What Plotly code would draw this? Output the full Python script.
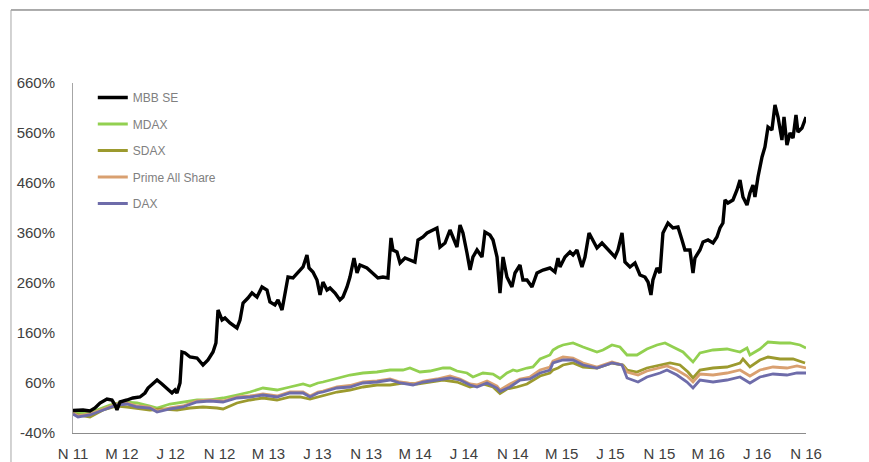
import plotly.graph_objects as go

# x = months since November 2011
tick_months = [0, 4, 8, 12, 16, 20, 24, 28, 32, 36, 40, 44, 48, 52, 56, 60]
tick_labels = ["N 11", "M 12", "J 12", "N 12", "M 13", "J 13", "N 13", "M 14",
               "J 14", "N 14", "M 15", "J 15", "N 15", "M 16", "J 16", "N 16"]
y_tick_vals = [-40, 60, 160, 260, 360, 460, 560, 660]
y_tick_labels = ["-40%", "60%", "160%", "260%", "360%", "460%", "560%", "660%"]

mbb_m = [0, 0.82, 1.39, 1.80, 2.21, 2.78, 3.19, 3.44, 3.60, 3.85, 4.42, 4.91, 5.48, 5.89, 6.14, 6.55,
         6.88, 7.28, 7.69, 8.10, 8.35, 8.51, 8.76, 8.92, 9.17, 9.58, 10.15, 10.64, 11.05, 11.46, 11.70,
         11.87, 12.20, 12.44, 12.85, 13.42, 13.67, 13.92, 14.32, 14.65, 15.06, 15.47, 15.88, 16.12,
         16.53, 16.78, 17.11, 17.35, 17.60, 18.01, 18.42, 18.83, 19.15, 19.32, 19.64, 19.97, 20.22,
         20.46, 20.79, 21.04, 21.45, 21.85, 22.10, 22.43, 22.67, 23.00, 23.25, 23.49, 24.06, 24.56,
         24.96, 25.37, 25.78, 26.03, 26.19, 26.52, 26.77, 27.18, 27.58, 27.99, 28.24, 28.65, 28.98,
         29.39, 29.79, 30.04, 30.45, 30.86, 31.10, 31.43, 31.68, 31.92, 32.25, 32.50, 32.74, 33.07,
         33.48, 33.72, 34.13, 34.38, 34.71, 34.95, 35.20, 35.52, 35.93, 36.18, 36.59, 36.83, 37.16,
         37.57, 37.98, 38.47, 39.04, 39.45, 39.70, 39.86, 40.27, 40.68, 40.93, 41.25, 41.66, 41.91,
         42.24, 42.56, 42.89, 43.30, 43.71, 44.12, 44.36, 44.61, 44.94, 45.18, 45.59, 46.00, 46.41,
         46.82, 47.07, 47.31, 47.47, 47.80, 48.05, 48.29, 48.70, 49.11, 49.52, 49.85, 50.09, 50.50,
         50.75, 50.91, 51.32, 51.57, 51.98, 52.39, 52.71, 52.96, 53.20, 53.37, 53.61, 54.02, 54.35,
         54.60, 54.84, 55.17, 55.41, 55.66, 55.82, 56.07, 56.40, 56.64, 56.89, 57.21, 57.46, 57.71,
         58.03, 58.20, 58.44, 58.69, 58.94, 59.18, 59.34, 59.67, 60.00]
mbb_v = [5, 6, 4, 10, 20, 28, 26, 16, 6, 22, 26, 30, 32, 40, 50, 60,
         66, 58, 50, 40, 46, 40, 60, 122, 120, 112, 110, 96, 106, 122, 140,
         206, 186, 190, 180, 170, 186, 220, 230, 240, 232, 252, 246, 222,
         216, 226, 206, 240, 272, 270, 280, 292, 316, 290, 282, 266, 236,
         262, 246, 250, 240, 226, 232, 252, 272, 310, 280, 296, 290, 280,
         270, 272, 270, 350, 326, 322, 300, 310, 306, 302, 346, 352, 360,
         366, 370, 332, 340, 366, 352, 332, 376, 360, 320, 286, 312, 326,
         312, 362, 356, 346, 312, 240, 312, 272, 252, 280, 296, 266, 266,
         252, 280, 286, 290, 282, 310, 292, 312, 322, 316, 326, 292, 312,
         360, 346, 330, 340, 330, 320, 312, 326, 360, 302, 292, 300, 276,
         272, 262, 236, 266, 290, 280, 360, 380, 370, 372, 346, 326, 326,
         280, 310, 326, 342, 346, 340, 352, 370, 380, 426, 420, 426, 446,
         466, 432, 416, 440, 456, 432, 472, 512, 532, 572, 566, 616, 592,
         546, 592, 536, 560, 550, 596, 562, 570, 592]

mdax_m = [0, 0.82, 1.96, 3.03, 4.09, 5.24, 6.30, 6.88, 7.94, 9.00, 10.15, 11.21, 12.28, 13.42, 14.49,
          15.55, 16.70, 17.76, 18.83, 19.40, 20.05, 20.46, 21.61, 22.67, 23.74, 24.88, 25.95, 27.01,
          27.58, 28.40, 29.22, 30.29, 30.86, 31.43, 32.25, 32.74, 33.56, 34.38, 34.95, 35.52, 36.02,
          36.34, 37.16, 37.65, 38.23, 39.04, 39.29, 39.70, 40.11, 40.93, 41.75, 42.89, 43.38, 44.12,
          44.77, 45.35, 46.16, 46.98, 47.80, 48.46, 49.11, 49.93, 50.34, 50.75, 51.32, 52.39, 53.53,
          54.60, 55.17, 55.41, 56.23, 56.89, 57.87, 58.69, 59.51, 60.00]
mdax_v = [0, 0, 6, 16, 22, 20, 14, 10, 18, 22, 26, 26, 30, 36, 42,
          50, 46, 52, 58, 54, 60, 62, 70, 76, 80, 82, 86, 86,
          90, 82, 84, 90, 90, 84, 80, 72, 80, 78, 69, 80, 86,
          84, 90, 92, 108, 116, 126, 132, 136, 140, 132, 122, 126, 136,
          132, 116, 116, 128, 136, 140, 132, 122, 112, 102, 120, 126, 128,
          122, 130, 116, 128, 142, 140, 140, 136, 130]

sdax_m = [0, 1.39, 2.46, 3.60, 4.42, 5.24, 6.30, 7.37, 8.51, 9.58, 10.64, 11.79, 12.28, 13.42, 14.49,
          15.55, 16.70, 17.76, 18.58, 19.40, 20.05, 20.46, 21.61, 22.67, 23.74, 24.88, 25.95, 27.01,
          28.16, 29.22, 30.29, 31.43, 32.50, 33.56, 34.38, 34.95, 35.52, 36.34, 37.16, 38.23, 39.04,
          39.29, 39.70, 40.11, 40.93, 41.75, 42.89, 44.12, 45.02, 45.35, 46.16, 46.98, 48.05, 48.87,
          49.68, 50.34, 50.75, 51.32, 52.39, 53.53, 54.60, 54.84, 55.41, 56.23, 56.89, 57.87, 58.94, 59.92]
sdax_v = [-2, -8, 6, 14, 12, 10, 6, 8, 6, 10, 12, 10, 8, 20, 26,
          30, 26, 32, 32, 28, 32, 36, 42, 46, 52, 56, 56, 60,
          58, 62, 66, 62, 52, 58, 52, 39, 48, 52, 58, 74, 80,
          86, 90, 96, 100, 92, 90, 100, 96, 86, 82, 90, 96, 100,
          96, 82, 70, 86, 90, 92, 100, 108, 92, 106, 112, 108, 108, 100]

prime_m = [0, 0.41, 1.39, 2.46, 3.60, 4.42, 5.24, 6.30, 6.88, 7.94, 9.00, 10.15, 11.21, 12.28, 13.42,
           14.49, 15.55, 16.70, 17.76, 18.83, 19.40, 20.05, 20.46, 21.61, 22.67, 23.74, 24.88, 25.95,
           26.77, 27.83, 28.65, 29.79, 30.86, 31.68, 32.50, 33.07, 33.89, 34.71, 34.95, 35.77, 36.59,
           37.41, 38.23, 39.04, 39.29, 40.11, 40.93, 41.75, 42.89, 44.12, 44.94, 45.35, 46.25, 46.98,
           48.05, 48.62, 49.44, 50.26, 50.75, 51.32, 52.39, 53.53, 54.60, 55.41, 56.23, 57.30, 58.44,
           59.26, 60.00]
prime_v = [0, -6, -2, 8, 18, 20, 14, 12, 4, 10, 14, 24, 26, 24, 32,
           34, 38, 34, 42, 42, 34, 42, 44, 52, 55, 62, 64, 68,
           62, 58, 64, 68, 74, 68, 58, 56, 64, 54, 46, 58, 68,
           72, 86, 92, 104, 112, 110, 100, 92, 102, 96, 82, 76, 84,
           90, 94, 86, 74, 62, 78, 76, 80, 86, 74, 86, 92, 90,
           94, 90]

dax_m = [0, 0.41, 1.39, 2.46, 3.60, 4.42, 5.24, 6.30, 6.88, 7.94, 9.00, 10.15, 11.21, 12.28, 13.42,
         14.49, 15.55, 16.70, 17.76, 18.83, 19.40, 20.05, 20.46, 21.61, 22.67, 23.74, 24.88, 25.95,
         26.77, 27.83, 28.65, 29.79, 30.86, 31.68, 32.50, 33.07, 33.89, 34.71, 34.95, 35.77, 36.59,
         37.41, 38.23, 39.04, 39.29, 40.11, 40.93, 41.75, 42.89, 44.12, 44.94, 45.35, 46.25, 46.98,
         48.05, 48.62, 49.44, 50.26, 50.75, 51.32, 52.39, 53.53, 54.60, 55.41, 56.23, 57.30, 58.44,
         59.26, 60.00]
dax_v = [-2, -8, -4, 6, 16, 18, 12, 10, 2, 8, 12, 22, 24, 22, 30,
         32, 36, 32, 40, 40, 32, 40, 42, 50, 52, 60, 62, 66,
         60, 56, 62, 66, 70, 66, 56, 52, 60, 50, 43, 52, 66,
         68, 80, 86, 100, 106, 106, 96, 90, 100, 96, 70, 62, 72,
         80, 86, 76, 62, 50, 66, 62, 66, 72, 60, 72, 78, 76,
         80, 80]

series = [
    ("MDAX", mdax_m, mdax_v, "#92D050", 2, 2.8),
    ("SDAX", sdax_m, sdax_v, "#9C9A2E", 3, 2.8),
    ("Prime All Share", prime_m, prime_v, "#D9A070", 4, 2.8),
    ("DAX", dax_m, dax_v, "#6E6CAA", 5, 2.8),
    ("MBB SE", mbb_m, mbb_v, "#000000", 1, 3.4),
]

fig = go.Figure()
for name, xs, ys, col, rank, w in series:
    fig.add_trace(go.Scatter(
        x=xs, y=ys, mode="lines", name=name, legendrank=rank, legendgroup=name,
        line=dict(color=col, width=w),
    ))

axis_font = dict(family="Liberation Sans, Arial, sans-serif", size=15, color="#404040")

fig.update_layout(
    width=869, height=462,
    margin=dict(l=73, r=63, t=83, b=29, autoexpand=False),
    paper_bgcolor="white", plot_bgcolor="white",
    showlegend=True,
    legend=dict(
        x=0.027, y=1.0, xanchor="left", yanchor="top",
        bgcolor="rgba(0,0,0,0)", tracegroupgap=7.5,
        font=dict(family="Liberation Sans, Arial, sans-serif", size=12, color="#808080"),
        itemwidth=30,
    ),
    xaxis=dict(
        range=[0, 60], tickmode="array", tickvals=tick_months, ticktext=tick_labels,
        showgrid=False, zeroline=False, showline=True, linecolor="#8c8c8c", linewidth=1,
        ticks="", tickfont=axis_font, ticklabelstandoff=7, automargin=False,
    ),
    yaxis=dict(
        range=[-40, 660], tickmode="array", tickvals=y_tick_vals, ticktext=y_tick_labels,
        showgrid=False, zeroline=False, showline=True, linecolor="#a6a6a6", linewidth=1,
        ticks="", tickfont=axis_font, ticklabelstandoff=14, automargin=False,
    ),
    shapes=[
        dict(type="line", xref="paper", yref="paper", x0=-0.0846, x1=1.2, y0=1.2086, y1=1.2086,
             line=dict(color="#595959", width=1)),
        dict(type="line", xref="paper", yref="paper", x0=-0.0846, x1=-0.0846, y0=1.2086, y1=-0.2,
             line=dict(color="#a6a6a6", width=1)),
    ],
)

fig.write_html(
    "out.html",
    config={"displayModeBar": False},
    post_script="document.body.style.margin='0';document.body.style.overflow='hidden';",
)
